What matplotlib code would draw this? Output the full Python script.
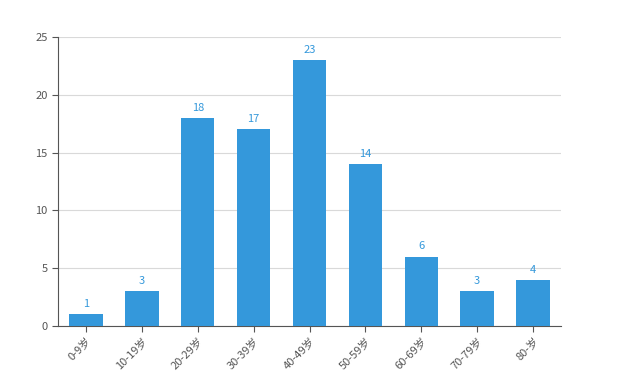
import matplotlib
matplotlib.use('Agg')
import matplotlib.pyplot as plt
import numpy as np

plt.rcParams['font.family'] = ['Noto Sans CJK SC', 'DejaVu Sans']

categories = ['0-9岁', '10-19岁', '20-29岁', '30-39岁', '40-49岁', '50-59岁', '60-69岁', '70-79岁', '80-岁']
values = [1, 3, 18, 17, 23, 14, 6, 3, 4]

bar_color = '#3498db'
axis_color = '#555555'

fig = plt.figure(figsize=(6.4, 3.78), dpi=100)
ax = fig.add_axes([58/640, 1 - 326/378, 503/640, 289/378])

x = np.arange(len(categories))
bars = ax.bar(x, values, width=0.6, color=bar_color, zorder=3)
for xi, v in zip(x, values):
    ax.text(xi, v + 0.45, str(v), ha='center', va='bottom', fontsize=8, color=bar_color)

ax.set_xlim(-0.5, len(categories) - 0.5)
ax.set_ylim(0, 25)
ax.set_yticks([0, 5, 10, 15, 20, 25])
ax.set_xticks(x)
ax.set_xticklabels(categories, rotation=45, ha='right', rotation_mode='anchor', fontsize=8, color='#555555')
ax.tick_params(axis='y', labelsize=8, labelcolor='#555555', length=4, color=axis_color)
ax.tick_params(axis='x', length=4, color=axis_color, pad=3)

ax.grid(axis='y', color='#d9d9d9', linewidth=0.8, zorder=0)
for s in ['top', 'right']:
    ax.spines[s].set_visible(False)
ax.spines['left'].set_color(axis_color)
ax.spines['bottom'].set_color(axis_color)

fig.savefig('out.png', dpi=100)
